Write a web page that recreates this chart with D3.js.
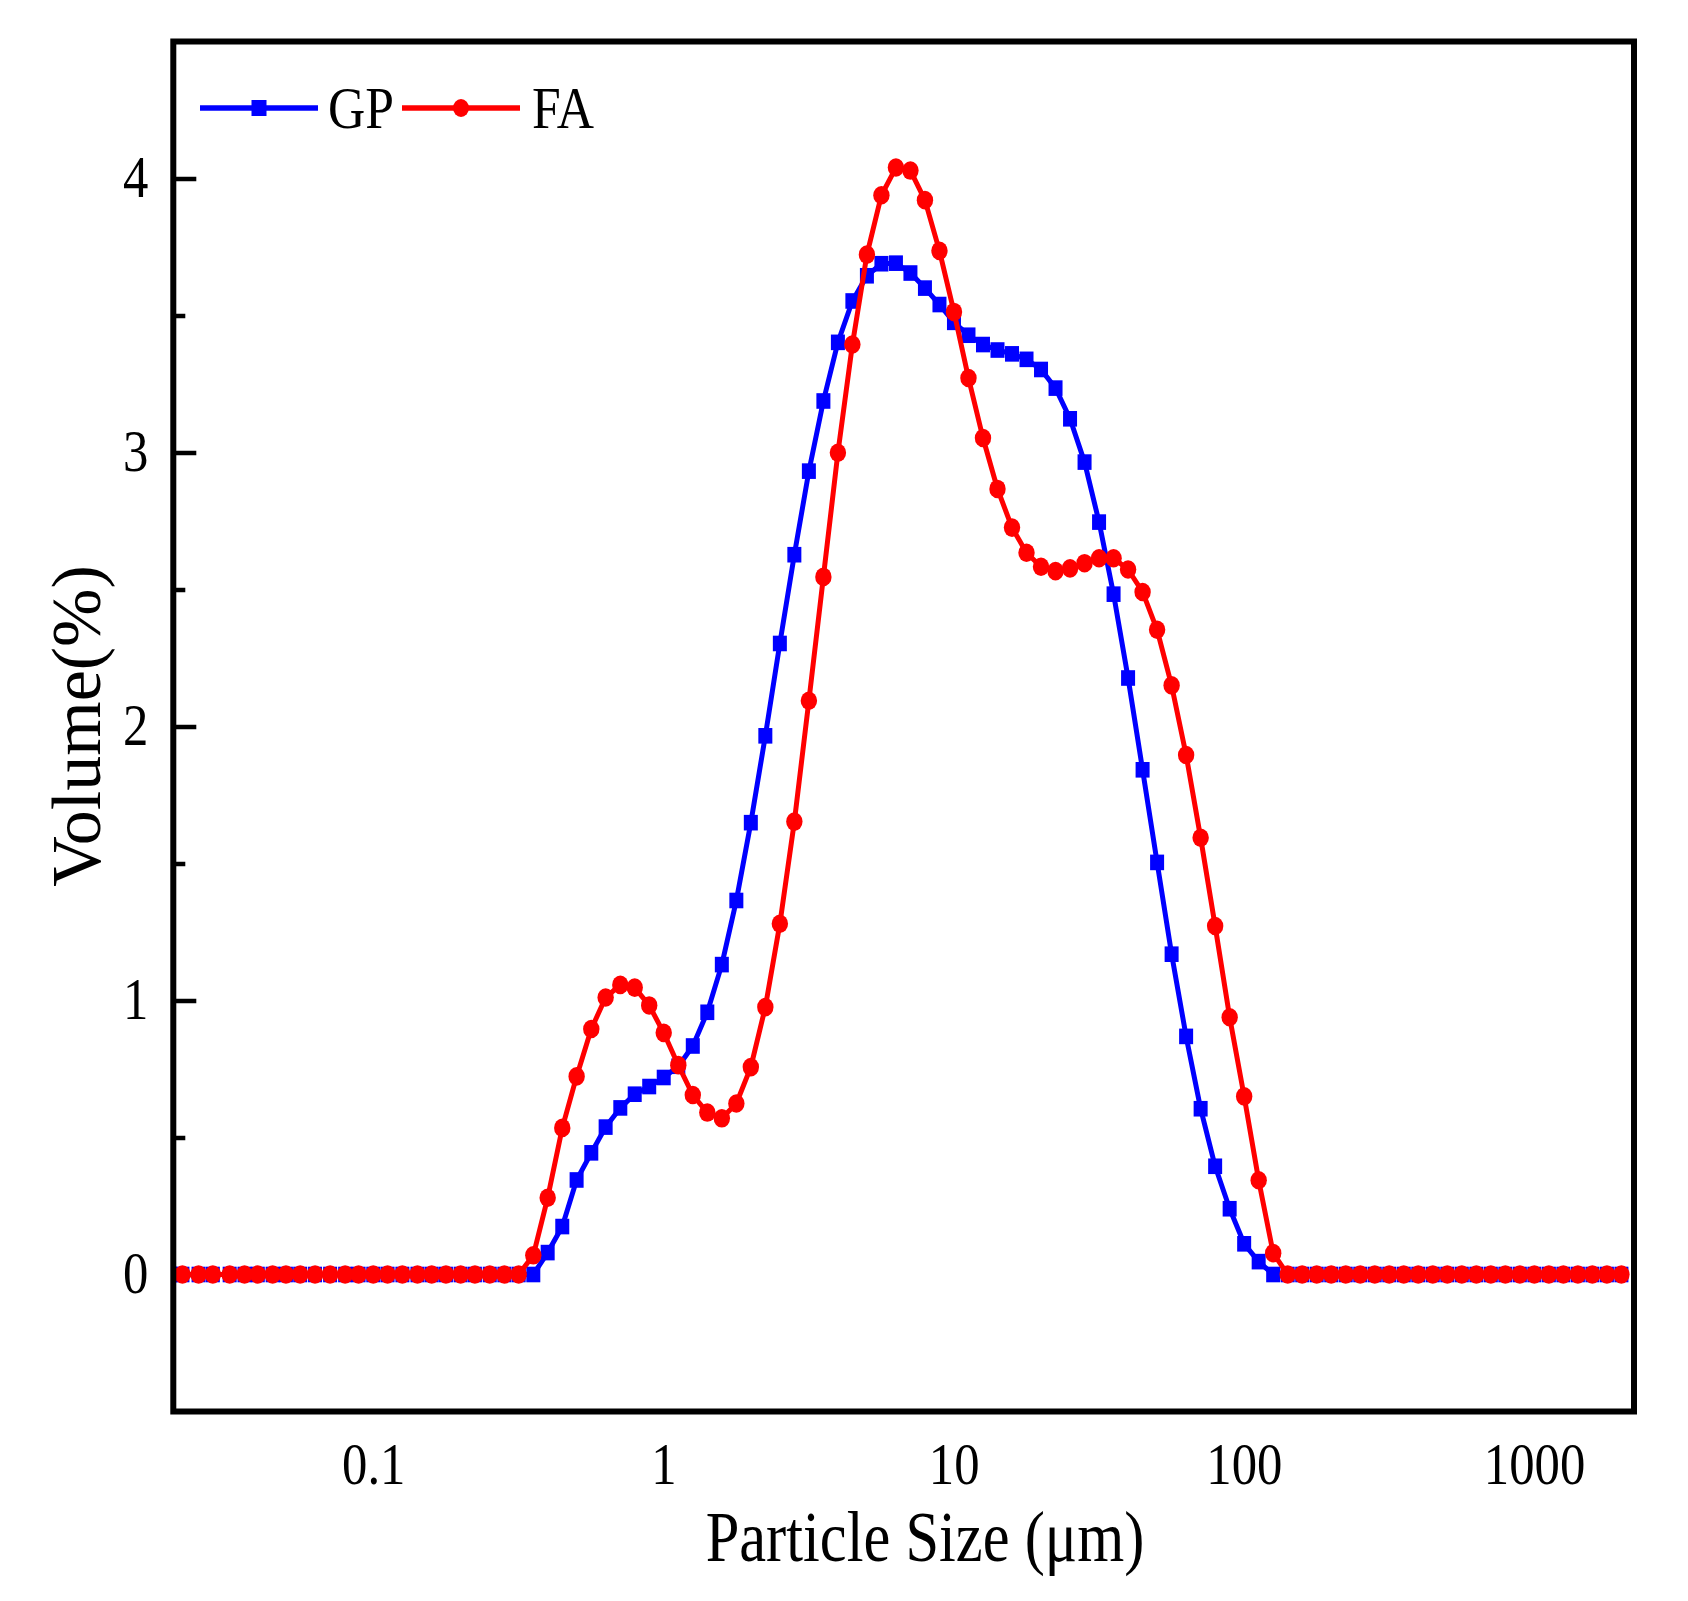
<!DOCTYPE html>
<html>
<head>
<meta charset="utf-8">
<script src="https://cdn.jsdelivr.net/npm/d3@7"></script>
<style>
  body { margin: 0; background: #fff; }
  text { font-family: "Liberation Serif", "Times New Roman", serif; fill: #000; }
</style>
</head>
<body>
<div id="chart"></div>
<script>
// particle size classes (um)
const sizes = [
  0.020, 0.022, 0.025, 0.028, 0.032, 0.036, 0.040, 0.045, 0.050, 0.056,
  0.063, 0.071, 0.080, 0.089, 0.100, 0.112, 0.126, 0.142, 0.159, 0.178,
  0.200, 0.224, 0.252, 0.283, 0.317, 0.356, 0.399, 0.448, 0.502, 0.564,
  0.632, 0.710, 0.796, 0.893, 1.002, 1.125, 1.262, 1.416, 1.589, 1.783,
  2.000, 2.244, 2.518, 2.825, 3.170, 3.557, 3.991, 4.477, 5.024, 5.637,
  6.325, 7.096, 7.962, 8.934, 10.024, 11.247, 12.619, 14.159, 15.887, 17.825,
  20.000, 22.440, 25.179, 28.251, 31.698, 35.566, 39.905, 44.774, 50.238, 56.368,
  63.246, 70.963, 79.621, 89.337, 100.237, 112.468, 126.191, 141.589, 158.866, 178.250,
  200.000, 224.404, 251.785, 282.508, 316.979, 355.656, 399.052, 447.744, 502.377, 563.677,
  632.456, 709.627, 796.214, 893.367, 1002.374, 1124.683, 1261.915, 1415.892, 1588.656, 1782.502,
  2000.000
];

// volume % for GP
const gp = [
  0, 0, 0, 0, 0, 0, 0, 0, 0, 0,
  0, 0, 0, 0, 0, 0, 0, 0, 0, 0,
  0, 0, 0, 0, 0, 0, 0.08, 0.175, 0.345, 0.444,
  0.538, 0.608, 0.658, 0.686, 0.719, 0.76, 0.834, 0.957, 1.131, 1.365,
  1.649, 1.966, 2.303, 2.627, 2.932, 3.188, 3.402, 3.553, 3.645, 3.689,
  3.691, 3.655, 3.600, 3.540, 3.475, 3.428, 3.394, 3.374, 3.360, 3.340,
  3.303, 3.235, 3.123, 2.965, 2.746, 2.483, 2.177, 1.842, 1.504, 1.169,
  0.869, 0.605, 0.395, 0.240, 0.112, 0.047, 0, 0, 0, 0,
  0, 0, 0, 0, 0, 0, 0, 0, 0, 0,
  0, 0, 0, 0, 0, 0, 0, 0, 0, 0,
  0
];

// volume % for FA
const fa = [
  0, 0, 0, 0, 0, 0, 0, 0, 0, 0,
  0, 0, 0, 0, 0, 0, 0, 0, 0, 0,
  0, 0, 0, 0, 0, 0.07, 0.28, 0.535, 0.723, 0.896,
  1.011, 1.057, 1.047, 0.982, 0.882, 0.764, 0.655, 0.591, 0.570, 0.624,
  0.757, 0.976, 1.28, 1.653, 2.094, 2.546, 2.999, 3.394, 3.722, 3.939,
  4.040, 4.029, 3.921, 3.736, 3.513, 3.272, 3.053, 2.867, 2.726, 2.634,
  2.583, 2.567, 2.577, 2.596, 2.614, 2.614, 2.573, 2.491, 2.353, 2.150,
  1.896, 1.594, 1.272, 0.939, 0.650, 0.344, 0.078, 0, 0, 0,
  0, 0, 0, 0, 0, 0, 0, 0, 0, 0,
  0, 0, 0, 0, 0, 0, 0, 0, 0, 0,
  0
];

const xTicks = [0.1, 1, 10, 100, 1000];
const xTickLabels = ["0.1", "1", "10", "100", "1000"];
const yTicks = [0, 1, 2, 3, 4];
const yTickLabels = ["0", "1", "2", "3", "4"];
const yMinorTicks = [0.5, 1.5, 2.5, 3.5];
const seriesNames = ["GP", "FA"];
const seriesColors = ["#0000ff", "#ff0000"];

const width = 1688;
const height = 1601;
const plotLeft = 173.3, plotRight = 1634, plotTop = 41.5, plotBottom = 1411.5;
const sx = 0.86; // glyphs in the source are a bit narrow

const svg = d3.select("#chart").append("svg")
    .attr("width", width)
    .attr("height", height);

svg.append("rect").attr("width", width).attr("height", height).attr("fill", "#fff");

const x = d3.scaleLog().domain([0.02046, 2210]).range([plotLeft, plotRight]);
const y = d3.scaleLinear().domain([-0.5, 4.5]).range([plotBottom, plotTop]);

svg.append("clipPath").attr("id", "plotClip")
  .append("rect")
    .attr("x", plotLeft).attr("y", plotTop)
    .attr("width", plotRight - plotLeft).attr("height", plotBottom - plotTop);

// y axis: inward ticks
const yAxis = svg.append("g")
    .attr("transform", `translate(${plotLeft},0)`)
    .call(d3.axisLeft(y).tickValues(yTicks).tickSizeInner(-23).tickSizeOuter(0).tickPadding(25)
      .tickFormat((d, i) => yTickLabels[i]));
yAxis.select(".domain").remove();
yAxis.selectAll("line").attr("stroke", "#000").attr("stroke-width", 4.5);
yAxis.selectAll("text")
    .attr("font-size", 59)
    .attr("font-family", "Liberation Serif")
    .attr("fill", "#000")
    .attr("x", -25 / sx)
    .attr("dy", "0.3em")
    .attr("transform", `scale(${sx},1)`);

const yMinor = svg.append("g")
    .attr("transform", `translate(${plotLeft},0)`)
    .call(d3.axisLeft(y).tickValues(yMinorTicks).tickSizeInner(-12).tickSizeOuter(0).tickFormat(""));
yMinor.select(".domain").remove();
yMinor.selectAll("line").attr("stroke", "#000").attr("stroke-width", 4.5);

// x axis: labels only
const xAxis = svg.append("g")
    .attr("transform", `translate(0,${plotBottom})`)
    .call(d3.axisBottom(x).tickValues(xTicks).tickSize(0).tickPadding(31)
      .tickFormat((d, i) => xTickLabels[i]));
xAxis.select(".domain").remove();
xAxis.selectAll("text")
    .attr("font-size", 59)
    .attr("font-family", "Liberation Serif")
    .attr("fill", "#000")
    .attr("transform", `scale(${sx},1)`);

// series
const plot = svg.append("g").attr("clip-path", "url(#plotClip)");
const line = d3.line().x(d => x(d[0])).y(d => y(d[1]));

[gp, fa].forEach(function(vals, s) {
    const pts = sizes.map((v, i) => [v, vals[i]]);
    plot.append("path")
        .datum(pts)
        .attr("fill", "none")
        .attr("stroke", seriesColors[s])
        .attr("stroke-width", 5)
        .attr("stroke-linejoin", "round")
        .attr("d", line);
    if (s === 0) {
        plot.selectAll(".sq").data(pts).enter().append("rect")
            .attr("class", "sq")
            .attr("x", d => x(d[0]) - 7)
            .attr("y", d => y(d[1]) - 7.8)
            .attr("width", 14).attr("height", 15.6)
            .attr("fill", seriesColors[s]);
    } else {
        plot.selectAll(".dot").data(pts).enter().append("ellipse")
            .attr("class", "dot")
            .attr("cx", d => x(d[0]))
            .attr("cy", d => y(d[1]))
            .attr("rx", 8.2).attr("ry", 9.3)
            .attr("fill", seriesColors[s]);
    }
});

// frame
svg.append("rect")
    .attr("x", plotLeft).attr("y", plotTop)
    .attr("width", plotRight - plotLeft).attr("height", plotBottom - plotTop)
    .attr("fill", "none").attr("stroke", "#000").attr("stroke-width", 6);

// legend
const legendX = [200, 402];
const legendTextX = [328, 532];
seriesNames.forEach(function(name, s) {
    const g = svg.append("g");
    g.append("line")
        .attr("x1", legendX[s]).attr("x2", legendX[s] + 118)
        .attr("y1", 108).attr("y2", 108)
        .attr("stroke", seriesColors[s]).attr("stroke-width", 5.5);
    const cx = legendX[s] + 59;
    if (s === 0) {
        g.append("rect").attr("x", cx - 7.5).attr("y", 100).attr("width", 15).attr("height", 16)
            .attr("fill", seriesColors[s]);
    } else {
        g.append("ellipse").attr("cx", cx).attr("cy", 108).attr("rx", 8).attr("ry", 9)
            .attr("fill", seriesColors[s]);
    }
    g.append("text")
        .attr("transform", `translate(${legendTextX[s]},128) scale(${sx},1)`)
        .attr("font-size", 60)
        .text(name);
});

// axis titles
svg.append("text")
    .attr("transform", `translate(925,1561) scale(0.84,1)`)
    .attr("text-anchor", "middle")
    .attr("font-size", 72)
    .text("Particle Size (μm)");

svg.append("text")
    .attr("transform", "translate(100,726) rotate(-90)")
    .attr("text-anchor", "middle")
    .attr("font-size", 70)
    .text("Volume(%)");
</script>
</body>
</html>
